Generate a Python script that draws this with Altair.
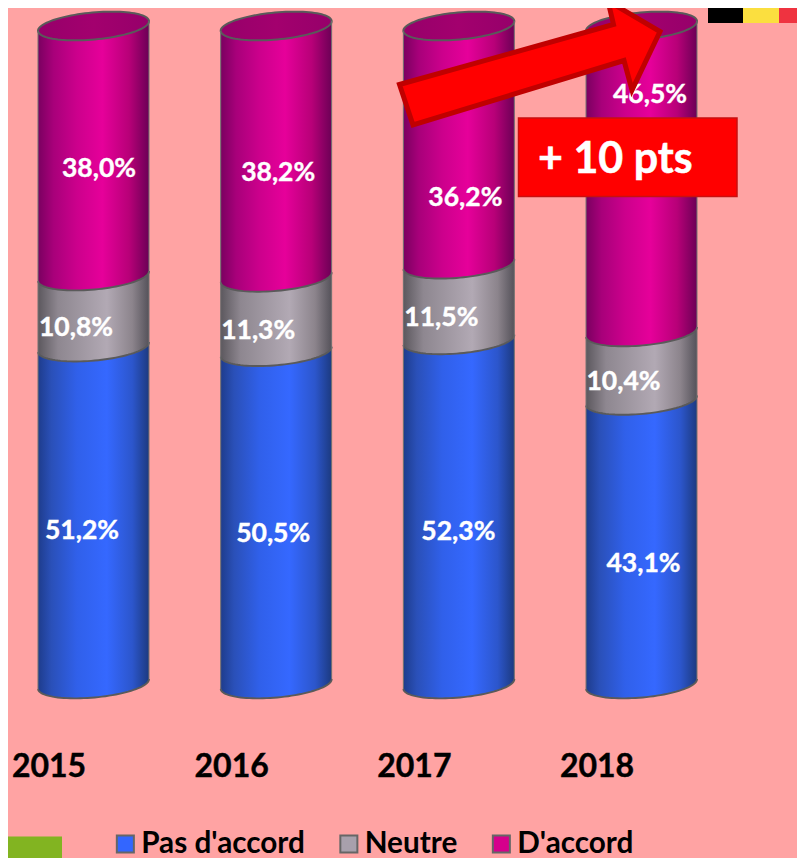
import math
import altair as alt
import pandas as pd

# ---- values ----
years = [2015, 2016, 2017, 2018]
series = ["Pas d'accord", "Neutre", "D'accord"]
pas_daccord = [51.2, 50.5, 52.3, 43.1]
neutre = [10.8, 11.3, 11.5, 10.4]
daccord = [38.0, 38.2, 36.2, 46.5]
value_labels = {
    "Pas d'accord": ["51,2%", "50,5%", "52,3%", "43,1%"],
    "Neutre": ["10,8%", "11,3%", "11,5%", "10,4%"],
    "D'accord": ["38,0%", "38,2%", "36,2%", "46,5%"],
}
annotation_text = "+ 10 pts"

# ---- layout of the hand-placed value labels (pixels from segment centre) ----
label_dx = {"Pas d'accord": [-11.5, -3, -0.5, 2], "Neutre": [-17.5, -18, -17.5, -18], "D'accord": [5.5, 2, 6.5, 8.5]}
label_dy = {"Pas d'accord": [15.5, 16.5, 20, 22], "Neutre": [16.4, 16.5, 16, 16], "D'accord": [18, 21, 52.5, -84]}

# ---- geometry ----
W, H = 789, 850
OFF = 8                    # page margin
PX_PER_YEAR = 182.67
PX_PER_PCT = 6.58
ZERO_PX = 684 - OFF        # chart pixel of the value 0
X0_PX = 93.5 - OFF         # chart pixel of 2015
A, B, TILT = 55.7, 13.5, math.radians(5.2)
HALF_W = A * math.cos(TILT) / PX_PER_YEAR
SLOPE = A * math.sin(TILT) / PX_PER_PCT

xscale = alt.Scale(domain=[2015 - X0_PX / PX_PER_YEAR, 2015 + (W - X0_PX) / PX_PER_YEAR], nice=False, zero=False)
yscale = alt.Scale(domain=[(ZERO_PX - H) / PX_PER_PCT, ZERO_PX / PX_PER_PCT], nice=False, zero=False)
X = alt.X("x:Q", scale=xscale, axis=None)
Y = alt.Y("y:Q", scale=yscale, axis=None)


def ell(t):
    return (A * math.cos(t) * math.cos(TILT) + B * math.sin(t) * math.sin(TILT),
            -A * math.cos(t) * math.sin(TILT) + B * math.sin(t) * math.cos(TILT))


def path(t0, t1, n=48, close=False):
    pts = [ell(t0 + (t1 - t0) * i / n) for i in range(n + 1)]
    return "M" + " L".join(f"{p[0]:.2f} {p[1]:.2f}" for p in pts) + (" Z" if close else "")


LOWER_ARC = path(0, math.pi)
FULL = path(0, 2 * math.pi, n=96, close=True)


def grad(stops):
    return alt.Gradient(gradient="linear", x1=0, x2=1, y1=0, y2=0,
                        stops=[alt.GradientStop(offset=o, color=c) for o, c in stops])


GRADS = {
    "Pas d'accord": grad([(0, "#1e3c8c"), (0.12, "#2a50b8"), (0.35, "#3060ea"), (0.62, "#3568ff"), (0.85, "#2c56cc"), (1, "#1c3a80")]),
    "Neutre": grad([(0, "#5c585e"), (0.18, "#8e8790"), (0.62, "#b2a9b4"), (0.85, "#8c848c"), (1, "#55525a")]),
    "D'accord": grad([(0, "#7a0060"), (0.14, "#a8007a"), (0.35, "#cc008c"), (0.58, "#e6009a"), (0.82, "#b80078"), (1, "#6c0056")]),
}
EDGE = "#5a5a5a"

values = {"Pas d'accord": pas_daccord, "Neutre": neutre, "D'accord": daccord}
layers = []
bottoms = [0.0] * 4
rows_top = []
for s in series:
    area_rows, base_rows, label_rows = [], [], []
    for i, yr in enumerate(years):
        lo, hi = bottoms[i], bottoms[i] + values[s][i]
        area_rows += [
            {"year": yr, "x": yr - HALF_W, "y": lo - SLOPE, "y2": hi - SLOPE},
            {"year": yr, "x": yr + HALF_W, "y": lo + SLOPE, "y2": hi + SLOPE},
        ]
        base_rows.append({"x": yr, "y": lo})
        label_rows.append({
            "x": yr + label_dx[s][i] / PX_PER_YEAR,
            "y": (lo + hi) / 2 - label_dy[s][i] / PX_PER_PCT,
            "t": value_labels[s][i],
        })
        bottoms[i] = hi
    layers.append(alt.Chart(pd.DataFrame(area_rows)).mark_area(fill=GRADS[s], opacity=1, strokeWidth=0)
                  .encode(x=X, y=Y, y2="y2:Q", detail="year:N"))
    base = alt.Chart(pd.DataFrame(base_rows))
    layers.append(base.mark_point(shape=FULL, size=4, fill=GRADS[s], opacity=1, strokeWidth=0).encode(x=X, y=Y))
    layers.append(base.mark_point(shape=LOWER_ARC, size=4, stroke=EDGE, strokeWidth=1.9, opacity=1).encode(x=X, y=Y))
    rows_top += label_rows

labels_df = pd.DataFrame(rows_top)

tops = pd.DataFrame({"x": years, "y": bottoms})
layers.append(alt.Chart(tops).mark_point(
    shape=FULL, size=4, opacity=1, stroke=EDGE, strokeWidth=2,
    fill=grad([(0, "#96006a"), (0.5, "#a3006e"), (1, "#96006a")])).encode(x=X, y=Y))

walls = []
for i, yr in enumerate(years):
    walls.append({"x": yr - HALF_W, "y": -SLOPE, "y2": bottoms[i] - SLOPE})
    walls.append({"x": yr + HALF_W, "y": SLOPE, "y2": bottoms[i] + SLOPE})
layers.append(alt.Chart(pd.DataFrame(walls)).mark_rule(color="#707070", strokeWidth=1).encode(x=X, y=Y, y2="y2:Q"))

FONT = "Lato"
layers.append(alt.Chart(labels_df).mark_text(font=FONT, fontWeight="bold", fontSize=26.5, color="white", stroke="white",
                                             strokeWidth=0.4, align="center", baseline="middle")
              .encode(x=X, y=Y, text="t:N"))

year_df = pd.DataFrame({"x": [y - 44.5 / PX_PER_YEAR for y in years],
                        "y": [(684 - 777) / PX_PER_PCT] * 4,
                        "t": [str(y) for y in years]})
layers.append(alt.Chart(year_df).mark_text(font=FONT, fontWeight="bold", fontSize=32, color="black", stroke="black",
                                           strokeWidth=0.4, align="center", baseline="alphabetic")
              .encode(x=X, y=Y, text="t:N"))

# hidden marks carrying the legend
legend_df = pd.DataFrame({"x": [2015] * 3, "y": [0] * 3, "s": series})
layers.append(alt.Chart(legend_df).mark_square(opacity=0).encode(
    x=X, y=Y,
    color=alt.Color("s:N", scale=alt.Scale(domain=series, range=["#3366ff", "#a8a0ac", "#d6008c"]),
                    legend=alt.Legend(orient="none", legendX=102.5, legendY=821, direction="horizontal", title=None,
                                      symbolType="square", symbolSize=290, symbolOpacity=1,
                                      symbolStrokeColor="#666666", symbolStrokeWidth=2,
                                      labelFont=FONT, labelFontWeight="bold", labelFontSize=29.7, labelColor="black",
                                      labelLimit=400, columnPadding=28.5, labelOffset=1))))


def vrect(x0, x1, y0, y1, **kw):
    return alt.Chart(pd.DataFrame({"a": [0]})).mark_rect(**kw).encode(
        x=alt.value(x0 - OFF), x2=alt.value(x1 - OFF), y=alt.value(y0 - OFF), y2=alt.value(y1 - OFF))


# annotation arrow, pixel polygon
AX, AY = 530, 63
arrow_pts = [(399.5, 84.5), (613.5, 24.5), (608, 1), (660, 31.5), (632, 90), (624, 60.5), (413, 125)]
arrow_path = "M" + " L".join(f"{x - AX} {y - AY}" for x, y in arrow_pts) + " Z"
layers.append(alt.Chart(pd.DataFrame({"a": [0]})).mark_point(
    shape=arrow_path, size=4, fill="#ff0000", stroke="#c00000", strokeWidth=5, strokeJoin="miter",
    strokeMiterLimit=10, opacity=1
).encode(x=alt.value(AX - OFF), y=alt.value(AY - OFF)))

layers.append(vrect(518.5, 737, 118, 196.5, fill="#ff0000", stroke="#c81010", strokeWidth=1.5))
layers.append(alt.Chart(pd.DataFrame({"t": [annotation_text]})).mark_text(
    font=FONT, fontWeight="bold", fontSize=43, color="white", stroke="white", strokeWidth=0.5,
    align="left", baseline="alphabetic"
).encode(x=alt.value(538 - OFF), y=alt.value(173 - OFF), text="t:N"))

# flag and green corner block
layers.append(vrect(708, 743, 0, 23, fill="#000000"))
layers.append(vrect(743, 779, 0, 23, fill="#fbdf3f"))
layers.append(vrect(779, 805, 0, 23, fill="#ef3340"))
layers.append(vrect(0, 62, 836.5, 858, fill="#82b421"))

chart = alt.layer(*layers).properties(
    width=W, height=H, background="#ffa3a3", padding=0,
    autosize=alt.AutoSizeParams(type="none"),
).configure_view(stroke=None)

chart.save("out.html", embed_options={"renderer": "svg", "actions": False})
